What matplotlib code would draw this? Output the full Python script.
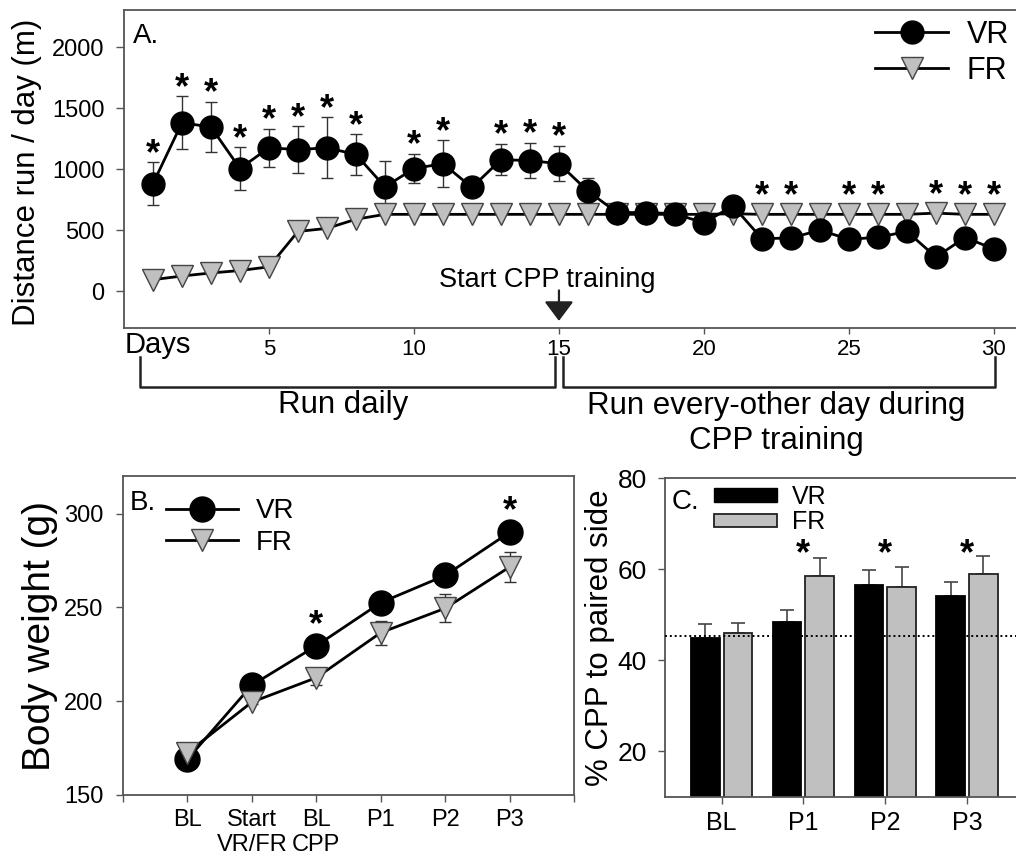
import matplotlib
matplotlib.use("Agg")
import matplotlib.pyplot as plt
from matplotlib.patches import Patch
from matplotlib.lines import Line2D

plt.rcParams["font.family"] = ["Liberation Sans", "DejaVu Sans"]

# Panel A - distance run per day
days = list(range(1, 31))
vr_dist = [880, 1380, 1345, 1005, 1175, 1160, 1175, 1120, 855, 1005, 1045, 850, 1078, 1070, 1045,
           820, 645, 645, 635, 560, 700, 430, 437, 500, 426, 442, 490, 280, 440, 347]
vr_dist_err = [175, 215, 205, 175, 155, 190, 250, 165, 210, 120, 190, 60, 130, 145, 145,
               110, 50, 50, 50, 50, 50, 50, 50, 50, 50, 50, 50, 50, 50, 50]
fr_dist = [95, 125, 150, 170, 200, 490, 515, 590, 630, 630, 630, 630, 630, 630, 630,
           630, 630, 630, 630, 630, 635, 630, 630, 630, 630, 630, 630, 640, 630, 630]
fr_dist_err = [30] * 30
sig_days = [1, 2, 3, 4, 5, 6, 7, 8, 10, 11, 13, 14, 15, 22, 23, 25, 26, 28, 29, 30]

# Panel B - body weight
wt_labels = ["BL", "Start\nVR/FR", "BL\nCPP", "P1", "P2", "P3"]
vr_wt = [169, 208.5, 229.5, 252.5, 267, 290]
vr_wt_err = [1, 1, 1, 2, 2, 2]
fr_wt = [172.5, 199.5, 212.5, 236.5, 249.5, 271.5]
fr_wt_err = [1, 1, 4, 6.5, 7.5, 8]
sig_wt = [3, 6]

# Panel C - % CPP to paired side
cpp_labels = ["BL", "P1", "P2", "P3"]
vr_cpp = [45.0, 48.5, 56.6, 54.2]
vr_cpp_err = [3.0, 2.6, 3.3, 2.9]
fr_cpp = [46.0, 58.6, 56.2, 58.9]
fr_cpp_err = [2.1, 3.9, 4.3, 4.0]
cpp_baseline = 45.3
sig_cpp = [2, 3, 4]

spine_col = "#555555"
grey = "#c0c0c0"

fig = plt.figure(figsize=(10.16, 8.63), dpi=100)
axA = fig.add_axes([0.122, 0.620, 0.878, 0.368])
axB = fig.add_axes([0.121, 0.0788, 0.444, 0.3696])
axC = fig.add_axes([0.6545, 0.0765, 0.3455, 0.3695])

for ax in (axA, axB, axC):
    for s in ax.spines.values():
        s.set_color(spine_col)
        s.set_linewidth(1.3)
    ax.tick_params(direction="out", color=spine_col, width=1.0, length=4)

# ---------- A ----------
axA.errorbar(days, vr_dist, yerr=vr_dist_err, fmt="none", ecolor="#333333", elinewidth=1.0,
             capsize=4, capthick=1.0, zorder=1)
axA.plot(days, fr_dist, color="black", lw=2, marker="v", ms=16, mfc=grey, mec="#444444",
         mew=1.0, zorder=3)
axA.plot(days, vr_dist, color="black", lw=2, marker="o", ms=16.5, mfc="black", mec="black",
         zorder=4)
for d in sig_days:
    i = d - 1
    y = max(vr_dist[i] + vr_dist_err[i], fr_dist[i] + 80) + 65
    axA.text(d, y, "*", ha="center", va="center", fontsize=26, fontweight="bold")

axA.set_xlim(0, 30.76)
axA.set_ylim(-300, 2300)
axA.set_xticks([5, 10, 15, 20, 25, 30])
axA.set_yticks([0, 500, 1000, 1500, 2000])
axA.tick_params(axis="x", labelsize=16, pad=4, length=4)
axA.tick_params(axis="y", labelsize=17, pad=8, length=6)
axA.spines["right"].set_visible(False)
axA.set_ylabel("Distance run / day (m)", fontsize=22.5)
axA.yaxis.set_label_coords(-0.092, 0.49)
axA.text(0.010, 0.92, "A.", transform=axA.transAxes, fontsize=20, va="center")
axA.text(0.001, -0.055, "Days", transform=axA.transAxes, fontsize=21, va="center", ha="left")

axA.annotate("", xy=(15, -265), xytext=(15, 30),
             arrowprops=dict(arrowstyle="-|>,head_length=0.6,head_width=0.45",
                             color="#222222", lw=1.6, mutation_scale=20))
axA.text(14.6, 35, "Start CPP training", ha="center", va="baseline", fontsize=19.5)

xt = axA.get_xaxis_transform()
axA.plot([0.55, 0.55, 14.86, 14.86], [-0.091, -0.186, -0.186, -0.091], color="#222222",
         lw=1.8, transform=xt, clip_on=False)
axA.plot([15.14, 15.14, 30.03, 30.03], [-0.091, -0.186, -0.186, -0.091], color="#222222",
         lw=1.8, transform=xt, clip_on=False)
axA.text(7.55, -0.242, "Run daily", transform=xt, ha="center", va="center", fontsize=22.5)
axA.text(22.5, -0.300, "Run every-other day during\nCPP training", transform=xt,
         ha="center", va="center", fontsize=22.5)

legA = [Line2D([0], [0], color="black", lw=2, marker="o", ms=16.5, mfc="black"),
        Line2D([0], [0], color="black", lw=2, marker="v", ms=16, mfc=grey, mec="#444444", mew=1.0)]
axA.legend(legA, ["VR", "FR"], loc="upper left", bbox_to_anchor=(0.842, 0.97), frameon=False,
           fontsize=22, handlelength=2.4, handletextpad=0.6, labelspacing=0.2, borderpad=0,
           borderaxespad=0)

# ---------- B ----------
xb = list(range(1, len(wt_labels) + 1))
axB.errorbar(xb, fr_wt, yerr=fr_wt_err, fmt="none", ecolor="#333333", elinewidth=1.0,
             capsize=4, capthick=1.0, zorder=1)
axB.plot(xb, vr_wt, color="black", lw=2, marker="o", ms=18, mfc="black", mec="black", zorder=3)
axB.plot(xb, fr_wt, color="black", lw=2, marker="v", ms=16, mfc=grey, mec="#444444", mew=1.0,
         zorder=4)
for x in sig_wt:
    axB.text(x, vr_wt[x - 1] + 11, "*", ha="center", va="center", fontsize=26, fontweight="bold")
axB.set_xlim(0, 7)
axB.set_ylim(150, 320)
axB.set_xticks(range(0, 8))
axB.set_xticklabels([""] + wt_labels + [""])
axB.set_yticks([150, 200, 250, 300])
axB.tick_params(axis="x", labelsize=17, pad=5, length=5)
axB.tick_params(axis="y", labelsize=17, pad=9, length=5)
axB.set_ylabel("Body weight (g)", fontsize=28)
axB.yaxis.set_label_coords(-0.145, 0.5)
axB.text(0.016, 0.915, "B.", transform=axB.transAxes, fontsize=20, va="center")
legB = [Line2D([0], [0], color="black", lw=2, marker="o", ms=18, mfc="black"),
        Line2D([0], [0], color="black", lw=2, marker="v", ms=16, mfc=grey, mec="#444444", mew=1.0)]
axB.legend(legB, ["VR", "FR"], loc="upper left", bbox_to_anchor=(0.095, 0.93), frameon=False,
           fontsize=20, handlelength=2.6, handletextpad=0.65, labelspacing=0.19, borderpad=0,
           borderaxespad=0)

# ---------- C ----------
xc = list(range(1, len(cpp_labels) + 1))
w = 0.35
xv = [x - 0.2 for x in xc]
xf = [x + 0.2 for x in xc]
axC.bar(xv, vr_cpp, width=w, bottom=0, color="black", edgecolor="black", lw=1.3, zorder=2)
axC.bar(xf, fr_cpp, width=w, bottom=0, color=grey, edgecolor="#222222", lw=1.3, zorder=2)
axC.errorbar(xv, vr_cpp, yerr=[[0] * 4, vr_cpp_err], fmt="none", ecolor="#444444",
             elinewidth=1.2, capsize=5, capthick=1.2, zorder=1)
axC.errorbar(xf, fr_cpp, yerr=[[0] * 4, fr_cpp_err], fmt="none", ecolor="#444444",
             elinewidth=1.2, capsize=5, capthick=1.2, zorder=1)
axC.axhline(cpp_baseline, color="black", lw=1.4, ls=(0, (1, 1.5)), zorder=3)
for x in sig_cpp:
    axC.text(x, 63.2, "*", ha="center", va="center", fontsize=26, fontweight="bold")
axC.set_xlim(0.307, 4.6)
axC.set_ylim(10, 80)
axC.set_xticks(xc)
axC.set_xticklabels(cpp_labels)
axC.set_yticks([20, 40, 60, 80])
axC.tick_params(axis="x", labelsize=18, pad=5, length=5)
axC.tick_params(axis="y", labelsize=19, pad=8, length=5)
axC.spines["right"].set_visible(False)
axC.set_ylabel("% CPP to paired side", fontsize=22.5)
axC.yaxis.set_label_coords(-0.142, 0.5)
axC.text(0.02, 0.925, "C.", transform=axC.transAxes, fontsize=20, va="center")
legC = [Patch(facecolor="black", edgecolor="black"),
        Patch(facecolor=grey, edgecolor="#222222", lw=1.3)]
axC.legend(legC, ["VR", "FR"], loc="upper left", bbox_to_anchor=(0.14, 0.978), frameon=False,
           fontsize=18, handlelength=2.5, handleheight=0.45, handletextpad=0.6,
           labelspacing=0.05, borderpad=0, borderaxespad=0)

fig.savefig("out.png", dpi=100)
